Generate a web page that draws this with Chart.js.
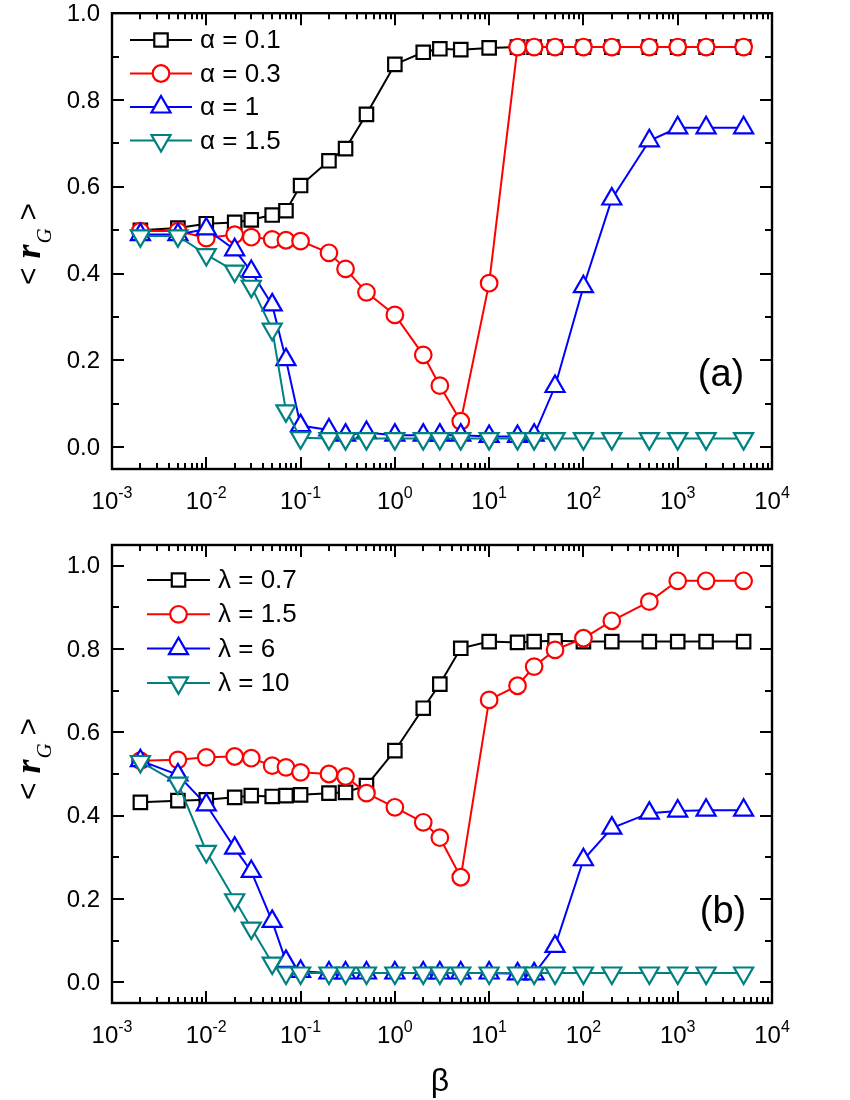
<!DOCTYPE html>
<html>
<head>
<meta charset="utf-8">
<script src="https://cdn.jsdelivr.net/npm/chart.js@4.4.1/dist/chart.umd.min.js"></script>
<style>
  html, body { margin: 0; padding: 0; background: #fff; }
  #wrap { position: relative; width: 850px; height: 1100px; }
  canvas { position: absolute; left: 0; }
</style>
</head>
<body>
<div id="wrap">
  <canvas id="chartA" width="850" height="520" style="top:0"></canvas>
  <canvas id="chartB" width="850" height="580" style="top:520px"></canvas>
</div>
<script>
// beta values shared by both panels
const betaValues = [0.002, 0.005, 0.01, 0.02, 0.03, 0.05, 0.07, 0.1, 0.2, 0.3, 0.5, 1, 2, 3, 5,
  10, 20, 30, 50, 100, 200, 500, 1000, 2000, 5000];

// panel (a)
const alphaLabels = ['α = 0.1', 'α = 0.3', 'α = 1', 'α = 1.5'];
const alpha01 = [0.500, 0.505, 0.515, 0.518, 0.524, 0.535, 0.545, 0.603, 0.660, 0.688, 0.767, 0.882, 0.910,
  0.918, 0.916, 0.920, 0.922, 0.922, 0.922, 0.922, 0.922, 0.922, 0.922, 0.922, 0.922];
const alpha03 = [0.498, 0.498, 0.482, 0.490, 0.484, 0.479, 0.477, 0.475, 0.448, 0.411, 0.357, 0.305, 0.213,
  0.142, 0.060, 0.378, 0.922, 0.922, 0.922, 0.922, 0.922, 0.922, 0.922, 0.922, 0.922];
const alpha1 = [0.490, 0.490, 0.503, 0.455, 0.405, 0.328, 0.202, 0.050, 0.040, 0.028, 0.034, 0.028, 0.028,
  0.028, 0.028, 0.025, 0.025, 0.028, 0.140, 0.370, 0.572, 0.706, 0.736, 0.736, 0.736];
const alpha15 = [0.487, 0.487, 0.444, 0.406, 0.371, 0.272, 0.084, 0.022, 0.020, 0.020, 0.020, 0.020, 0.020,
  0.020, 0.020, 0.020, 0.020, 0.020, 0.020, 0.020, 0.020, 0.020, 0.020, 0.020, 0.020];

// panel (b)
const lambdaLabels = ['λ = 0.7', 'λ = 1.5', 'λ = 6', 'λ = 10'];
const lambda07 = [0.432, 0.436, 0.438, 0.444, 0.448, 0.446, 0.448, 0.450, 0.454, 0.456, 0.472, 0.556, 0.658,
  0.716, 0.802, 0.818, 0.816, 0.818, 0.820, 0.818, 0.818, 0.818, 0.818, 0.818, 0.818];
const lambda15 = [0.532, 0.534, 0.540, 0.542, 0.538, 0.520, 0.516, 0.504, 0.500, 0.494, 0.454, 0.420, 0.384,
  0.347, 0.252, 0.678, 0.712, 0.758, 0.798, 0.826, 0.868, 0.914, 0.964, 0.964, 0.964];
const lambda6 = [0.532, 0.498, 0.426, 0.322, 0.266, 0.146, 0.050, 0.026, 0.022, 0.022, 0.022, 0.022, 0.022,
  0.022, 0.022, 0.022, 0.020, 0.020, 0.086, 0.294, 0.370, 0.406, 0.411, 0.413, 0.413];
const lambda10 = [0.530, 0.478, 0.314, 0.198, 0.130, 0.046, 0.022, 0.022, 0.022, 0.022, 0.022, 0.022, 0.022,
  0.022, 0.022, 0.022, 0.022, 0.022, 0.022, 0.022, 0.022, 0.022, 0.022, 0.022, 0.022];

const yTickValues = [0, 0.2, 0.4, 0.6, 0.8, 1.0];
const xDecades = [-3, -2, -1, 0, 1, 2, 3, 4];

const seriesStyles = [
  { color: '#000000', pointStyle: 'rect', radius: 9.5, rotation: 0 },
  { color: '#ff0000', pointStyle: 'circle', radius: 8.3, rotation: 0 },
  { color: '#0000ff', pointStyle: 'triangle', radius: 11, rotation: 0 },
  { color: '#008080', pointStyle: 'triangle', radius: 11, rotation: 180 }
];

const SANS = "'Liberation Sans', Arial, sans-serif";
const SERIF = "'Liberation Serif', 'Times New Roman', serif";

function toPoints(ys) {
  return betaValues.map((b, i) => ({ x: b, y: ys[i] }));
}

function buildDatasets(labels, series) {
  return series.map((ys, i) => {
    const s = seriesStyles[i];
    return {
      label: labels[i],
      data: toPoints(ys),
      borderColor: s.color,
      borderWidth: 2,
      pointStyle: s.pointStyle,
      pointRadius: s.radius,
      pointRotation: s.rotation,
      pointBorderColor: s.color,
      pointBackgroundColor: '#ffffff',
      pointBorderWidth: 2.2,
      order: 4 - i,
      tension: 0,
      clip: false
    };
  });
}

// frame, inward ticks, tick labels, legend and panel tag
const paperPlugin = {
  id: 'paper',
  beforeDatasetsDraw(chart) {
    const ctx = chart.ctx;
    const a = chart.chartArea;
    const xs = chart.scales.x, ys = chart.scales.y;
    ctx.save();
    ctx.strokeStyle = '#000';
    ctx.lineWidth = 2.4;
    ctx.strokeRect(a.left, a.top, a.right - a.left, a.bottom - a.top);
    ctx.lineWidth = 2;
    ctx.beginPath();
    // y ticks
    for (let k = 0; k <= 10; k++) {
      const v = k / 10;
      const py = Math.round(ys.getPixelForValue(v));
      const len = (k % 2 === 0) ? 12 : 7;
      ctx.moveTo(a.left, py); ctx.lineTo(a.left + len, py);
      ctx.moveTo(a.right, py); ctx.lineTo(a.right - len, py);
    }
    // x ticks
    for (const d of xDecades) {
      for (let m = 1; m <= 9; m++) {
        if (d === 4 && m > 1) break;
        const px = Math.round(xs.getPixelForValue(m * Math.pow(10, d)));
        const len = (m === 1) ? 12 : 6;
        ctx.moveTo(px, a.bottom); ctx.lineTo(px, a.bottom - len);
        ctx.moveTo(px, a.top); ctx.lineTo(px, a.top + len);
      }
    }
    ctx.stroke();
    ctx.restore();
  },
  afterDraw(chart) {
    const ctx = chart.ctx;
    const a = chart.chartArea;
    const xs = chart.scales.x, ys = chart.scales.y;
    const cfg = chart.options.plugins.paper;
    ctx.save();
    ctx.fillStyle = '#000';

    // y tick labels
    ctx.font = '24px ' + SANS;
    ctx.textAlign = 'right';
    ctx.textBaseline = 'middle';
    yTickValues.forEach(v => {
      ctx.fillText(v.toFixed(1), a.left - 12, ys.getPixelForValue(v) + 1);
    });

    // x tick labels 10^n
    xDecades.forEach(d => {
      const px = xs.getPixelForValue(Math.pow(10, d));
      ctx.font = '24px ' + SANS;
      const wBase = ctx.measureText('10').width;
      ctx.font = '16px ' + SANS;
      const sup = String(d);
      const wSup = ctx.measureText(sup).width;
      const x0 = px - (wBase + wSup) / 2;
      const base = a.bottom + 40;
      ctx.textAlign = 'left';
      ctx.textBaseline = 'alphabetic';
      ctx.font = '24px ' + SANS;
      ctx.fillText('10', x0, base);
      ctx.font = '16px ' + SANS;
      ctx.fillText(sup, x0 + wBase, base - 11);
    });

    // y axis title: < r_G >
    ctx.save();
    ctx.translate(40, cfg.titleY);
    ctx.rotate(-Math.PI / 2);
    ctx.textBaseline = 'alphabetic';
    ctx.textAlign = 'left';
    const fLt = '30px ' + SANS;
    const fR = 'italic bold 36px ' + SERIF;
    const fG = 'italic 21px ' + SERIF;
    ctx.font = fLt; const wLt = ctx.measureText('<').width;
    ctx.font = fR; const wR = ctx.measureText('r').width;
    ctx.font = fG; const wG = ctx.measureText('G').width;
    const gap = 9;
    const total = wLt + gap + wR + wG + gap + wLt;
    let tx = -total / 2;
    ctx.font = fLt; ctx.fillText('<', tx, -2); tx += wLt + gap;
    ctx.font = fR; ctx.fillText('r', tx, 0); tx += wR + 1;
    ctx.font = fG; ctx.fillText('G', tx, 11); tx += wG + gap - 1;
    ctx.font = fLt; ctx.fillText('>', tx, -2);
    ctx.restore();

    // x axis title
    if (cfg.xTitle) {
      ctx.font = '32px ' + SANS;
      ctx.textAlign = 'center';
      ctx.textBaseline = 'middle';
      ctx.fillText(cfg.xTitle, (a.left + a.right) / 2 - 2, a.bottom + 79);
    }

    // panel tag
    ctx.font = '38px ' + SANS;
    ctx.textAlign = 'center';
    ctx.textBaseline = 'middle';
    ctx.fillText(cfg.tag, cfg.tagX, cfg.tagY);

    // legend
    const L = cfg.legend;
    chart.data.datasets.forEach((ds, i) => {
      const s = seriesStyles[i];
      const ly = L.y0 + i * L.dy;
      ctx.strokeStyle = s.color;
      ctx.lineWidth = 2;
      ctx.beginPath();
      ctx.moveTo(L.x0, ly); ctx.lineTo(L.x1, ly);
      ctx.stroke();
      ctx.fillStyle = '#ffffff';
      ctx.lineWidth = 2.2;
      Chart.helpers.drawPoint(ctx, {
        pointStyle: s.pointStyle, radius: s.radius, rotation: s.rotation, borderWidth: 2.2
      }, (L.x0 + L.x1) / 2, ly);
      ctx.fillStyle = '#000';
      ctx.font = '26px ' + SANS;
      ctx.textAlign = 'left';
      ctx.textBaseline = 'middle';
      ctx.fillText(ds.label, L.tx, ly + 1);
    });
    ctx.restore();
  }
};

function makeChart(id, labels, series, opts) {
  return new Chart(document.getElementById(id), {
    type: 'line',
    data: { datasets: buildDatasets(labels, series) },
    options: {
      responsive: false,
      animation: false,
      events: [],
      layout: { padding: { left: 0, right: 78, top: opts.top, bottom: 0 } },
      plugins: {
        legend: { display: false },
        tooltip: { enabled: false },
        paper: opts
      },
      scales: {
        x: {
          type: 'logarithmic', min: 1e-3, max: 1e4,
          grid: { display: false }, border: { display: false },
          ticks: { display: false },
          afterFit: s => { s.height = opts.bottomSpace; }
        },
        y: {
          type: 'linear', min: -0.05, max: opts.yMax,
          grid: { display: false }, border: { display: false },
          ticks: { display: false },
          afterFit: s => { s.width = 112; }
        }
      }
    },
    plugins: [paperPlugin]
  });
}

makeChart('chartA', alphaLabels, [alpha01, alpha03, alpha1, alpha15], {
  top: 13, bottomSpace: 51, yMax: 1.0,
  titleY: 244, tag: '(a)', tagX: 721, tagY: 376, xTitle: '',
  legend: { x0: 130, x1: 192, tx: 200, y0: 40, dy: 33.5 }
});

makeChart('chartB', lambdaLabels, [lambda07, lambda15, lambda6, lambda10], {
  top: 25, bottomSpace: 97, yMax: 1.05,
  titleY: 239, tag: '(b)', tagX: 723, tagY: 393, xTitle: 'β',
  legend: { x0: 147, x1: 210, tx: 218, y0: 60, dy: 34.3 }
});
</script>
</body>
</html>
